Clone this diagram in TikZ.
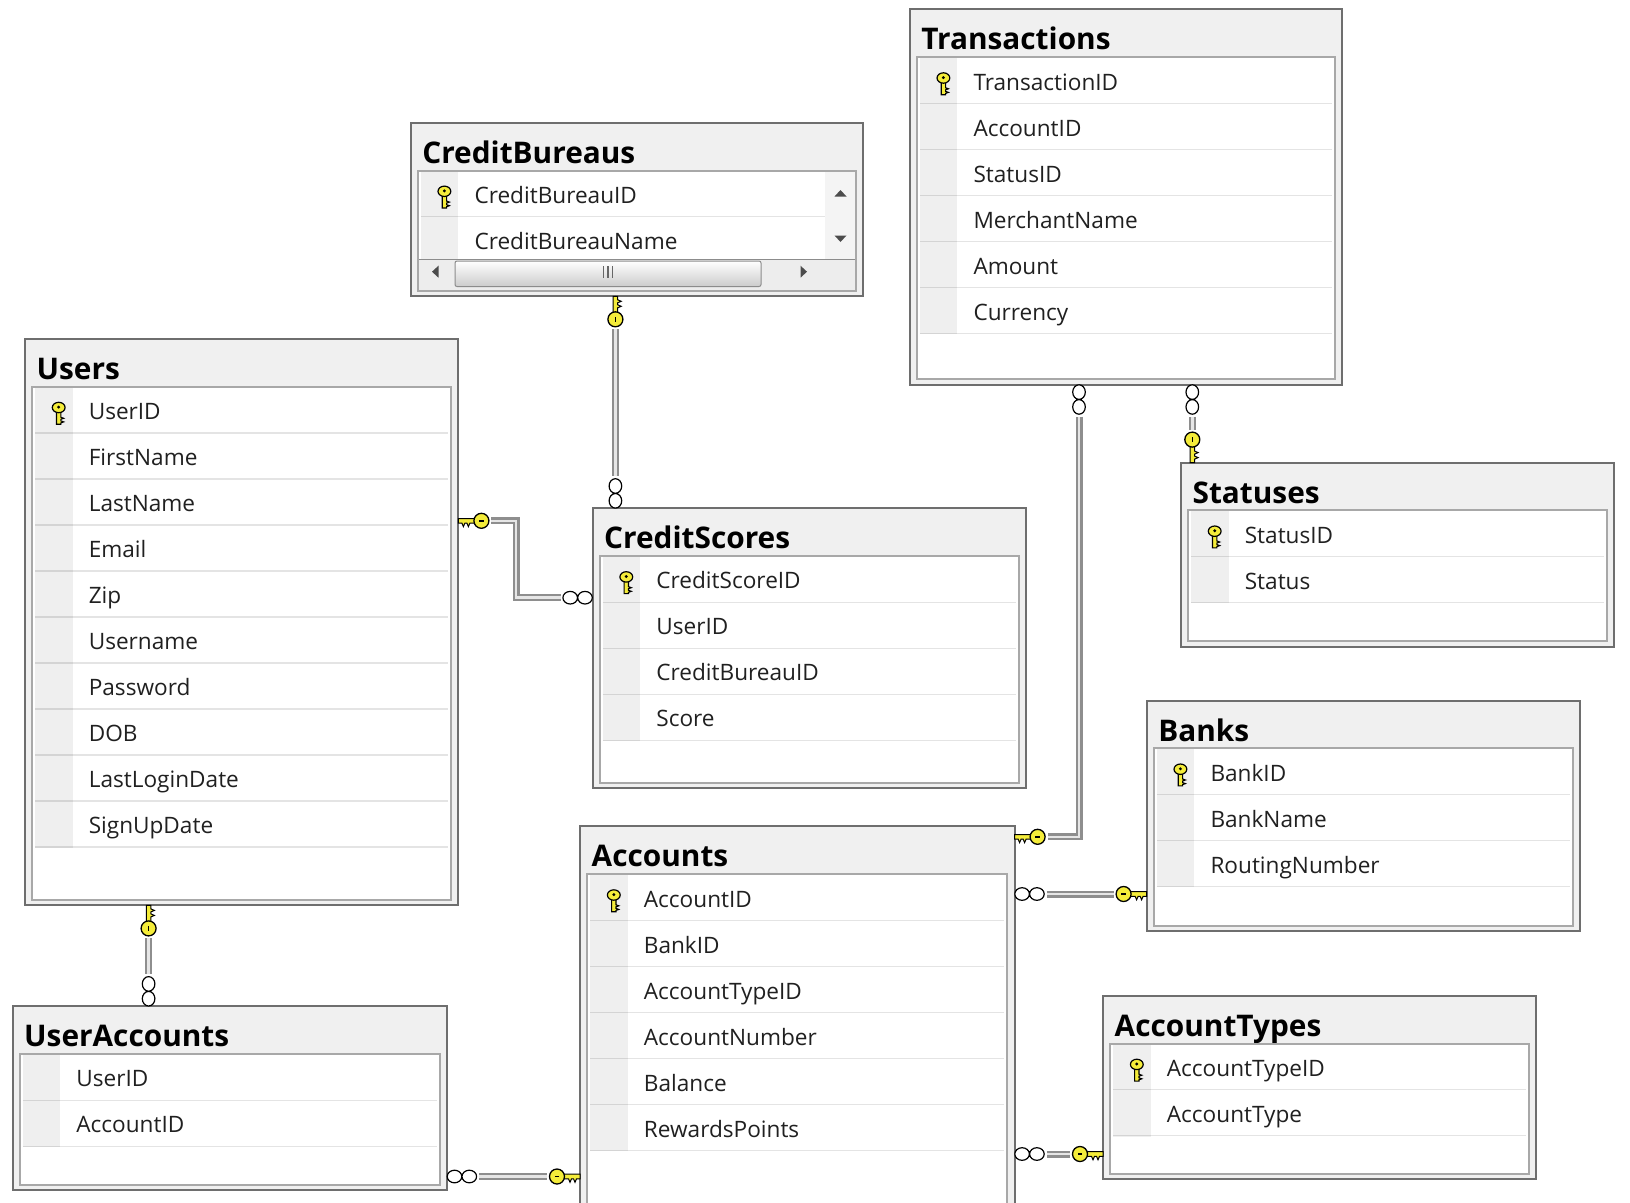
\documentclass[tikz,border=0pt]{standalone}
\usepackage{fontspec}
\setmainfont{Open Sans}
\usetikzlibrary{calc}

\definecolor{hdr}{HTML}{F0F0F0}
\definecolor{frameout}{HTML}{6E6E6E}
\definecolor{framein}{HTML}{A8A8A8}
\definecolor{rowline}{HTML}{E4E4E4}
\definecolor{keycell}{HTML}{EFEFEF}
\definecolor{keycellline}{HTML}{D4D4D4}
\definecolor{keyyellow}{HTML}{F4EC3A}
\definecolor{pipedark}{HTML}{8E8E8E}
\definecolor{pipelight}{HTML}{E6E6E6}
\definecolor{fieldink}{HTML}{202020}
\definecolor{scrolltrack}{HTML}{EDEDED}

\tikzset{
  tableframe/.style={draw=frameout, line width=2pt, fill=hdr, inner sep=0pt,
    outer sep=0pt, anchor=north west, rectangle},
  innerframe/.style={draw=framein, line width=2pt, fill=white},
  titletext/.style={anchor=base west, inner sep=0pt,
    font=\fontsize{29.8}{31}\selectfont\bfseries},
  fieldtext/.style={anchor=base west, inner sep=0pt, text=fieldink,
    font=\fontsize{22.6}{24}\selectfont},
  pipe/.style={draw=pipedark, line width=2.2pt, double=pipelight,
    double distance=2.6pt, line join=miter},
  % "one" end of a relationship: a key, teeth at the table, bow away from it
  keyend/.pic={
    \filldraw[fill=keyyellow, draw=black, line width=1pt]
      (0,-2.3) -- (17,-2.3) -- (17,2.3) -- (11.5,2.3) -- (10,5.8) -- (8.5,2.3)
      -- (6.5,2.3) -- (5,5.8) -- (3.5,2.3) -- (0,2.3) -- cycle;
    \filldraw[fill=keyyellow, draw=black, line width=1.3pt] (23,0) circle (7.5pt);
    \draw[line width=1.6pt] (20.8,0) -- (25.2,0);
  },
  % "many" end of a relationship: two small rings
  manyend/.pic={
    \filldraw[fill=white, draw=black, line width=1.2pt]
      (7.5,0) ellipse (7.3pt and 6.3pt) (22.3,0) ellipse (7.3pt and 6.3pt);
  },
  % primary key marker inside a row
  rowkey/.pic={
    \filldraw[fill=keyyellow, draw=black, line width=1.1pt]
      (-2.2,-1) -- (-2.2,11.5) -- (2.2,11.5) -- (2.2,10.2) -- (5,9.2) -- (2.2,8.2)
      -- (2.2,6.6) -- (5,5.6) -- (2.2,4.6) -- (2.2,-1) -- cycle;
    \filldraw[fill=keyyellow, draw=black, line width=1.2pt] (0,-5.2) ellipse (6.4pt and 5.2pt);
    \fill[black] (0,-5.6) circle (1.6pt);
  },
}

% one table: name, left, top, width, height, title, rows (1/label = key, 0/label = plain)
\newcommand\erdtable[7]{%
  \node[tableframe, minimum width=#4pt, minimum height=#5pt] (#1) at (#2,#3) {};
  \node[titletext] at ($(#1.north west)+(11.5,40.5)$) {#6};
  \draw[innerframe] ($(#1.north west)+(7.3,47.8)$) rectangle ($(#1.south east)+(-7.3,-5.2)$);
  \foreach \kind/\label [count=\i from 0] in {#7} {
    \fill[keycell] ($(#1.north west)+(10.3,{48.8+46*\i})$)
      rectangle ($(#1.north west)+(47.8,{48.8+46*(\i+1)})$);
    \draw[keycellline, line width=1.2pt] ($(#1.north west)+(10.3,{48.8+46*(\i+1)-0.8})$)
      -- ($(#1.north west)+(47.8,{48.8+46*(\i+1)-0.8})$);
    \draw[rowline, line width=1.2pt] ($(#1.north west)+(47.8,{48.8+46*(\i+1)-0.8})$)
      -- ($(#1.north east)+(-10.3,{48.8+46*(\i+1)-0.8})$);
    \node[fieldtext] at ($(#1.north west)+(63.7,{48.8+46*\i+23+8.8})$) {\label};
    \ifnum\kind=1
      \pic at ($(#1.north west)+(33.8,{48.8+46*\i+25})$) {rowkey};
    \fi
  }
}

\begin{document}
\begin{tikzpicture}[x=1pt, y=-1pt]
  \useasboundingbox (0,0) rectangle (1630,1202);
  \clip (0,0) rectangle (1630,1202);
  \fill[white] (0,0) rectangle (1630,1202);

  % ---- tables ----
  \erdtable{tr}{909.6}{9.4}{432.6}{375.2}{Transactions}
    {1/TransactionID, 0/AccountID, 0/StatusID, 0/MerchantName, 0/Amount, 0/Currency}
  \erdtable{cb}{410.6}{122.7}{452.2}{173.6}{CreditBureaus}
    {1/CreditBureauID, 0/CreditBureauName}
  \erdtable{users}{24.9}{338.9}{433.5}{566.5}{Users}
    {1/UserID, 0/FirstName, 0/LastName, 0/Email, 0/Zip, 0/Username, 0/Password,
     0/DOB, 0/LastLoginDate, 0/SignUpDate}
  \erdtable{cs}{592.5}{508.3}{433.5}{279.7}{CreditScores}
    {1/CreditScoreID, 0/UserID, 0/CreditBureauID, 0/Score}
  \erdtable{st}{1180.9}{462.6}{433.4}{184}{Statuses}
    {1/StatusID, 0/Status}
  \erdtable{banks}{1146.6}{700.6}{433.4}{230.8}{Banks}
    {1/BankID, 0/BankName, 0/RoutingNumber}
  \erdtable{acc}{580}{826.4}{434.6}{420}{Accounts}
    {1/AccountID, 0/BankID, 0/AccountTypeID, 0/AccountNumber, 0/Balance, 0/RewardsPoints}
  \erdtable{ua}{12.5}{1006.2}{434.5}{184}{UserAccounts}
    {0/UserID, 0/AccountID}
  \erdtable{at}{1103}{995.8}{433.4}{183}{AccountTypes}
    {1/AccountTypeID, 0/AccountType}

  % ---- scroll bars of CreditBureaus ----
  \fill[scrolltrack!60!white] (825.4,171.6) rectangle (855,259);
  \fill[black!70] (834.5,196.5) -- (846.5,196.5) -- (840.5,190) -- cycle;
  \fill[black!70] (834.5,235.5) -- (846.5,235.5) -- (840.5,242) -- cycle;
  \fill[scrolltrack] (419,259) rectangle (855,289.8);
  \draw[black!45, line width=1pt] (419,259) -- (855,259);
  \fill[black!70] (438.5,265.7) -- (438.5,277.7) -- (432,271.7) -- cycle;
  \fill[black!70] (800.5,265.7) -- (800.5,277.7) -- (807,271.7) -- cycle;
  \shade[top color=white, bottom color=black!20, draw=black!45, line width=1pt,
    rounded corners=2pt] (455,261) rectangle (761,286.5);
  \foreach \gx in {603.5,608,612.5}
    \draw[black!60, line width=1.5pt] (\gx,266) -- (\gx,277.5);

  % ---- anchors for the relationship lines ----
  \coordinate (colA) at (615.4,0);
  \coordinate (colB) at (516,0);
  \coordinate (colC) at (1079,0);
  \coordinate (colD) at (1192.3,0);
  \coordinate (colF) at (148.6,0);
  \coordinate (rowB) at (0,520.8);
  \coordinate (rowBb) at (0,597.7);
  \coordinate (rowC) at (0,836.8);
  \coordinate (rowE) at (0,894);
  \coordinate (rowG) at (0,1176.5);
  \coordinate (rowH) at (0,1154);

  \coordinate (a1) at (cb.south -| colA);
  \coordinate (a2) at (cs.north -| colA);
  \coordinate (b1) at (users.east |- rowB);
  \coordinate (b2) at (cs.west |- rowBb);
  \coordinate (c1) at (tr.south -| colC);
  \coordinate (c2) at (acc.east |- rowC);
  \coordinate (d1) at (tr.south -| colD);
  \coordinate (d2) at (st.north -| colD);
  \coordinate (e1) at (acc.east |- rowE);
  \coordinate (e2) at (banks.west |- rowE);
  \coordinate (f1) at (users.south -| colF);
  \coordinate (f2) at (ua.north -| colF);
  \coordinate (g1) at (ua.east |- rowG);
  \coordinate (g2) at (acc.west |- rowG);
  \coordinate (h1) at (acc.east |- rowH);
  \coordinate (h2) at (at.west |- rowH);

  % ---- relationship lines ----
  % CreditBureaus -> CreditScores
  \draw[pipe] ($(a1)+(0,33)$) -- ($(a2)+(0,-32)$);
  \pic[rotate=-90, yscale=-1] at (a1) {keyend};
  \pic[rotate=90] at (a2) {manyend};
  % Users -> CreditScores
  \draw[pipe] ($(b1)+(33,0)$) -| (colB |- b2) -- ($(b2)+(-32,0)$);
  \pic at (b1) {keyend};
  \pic[rotate=180] at (b2) {manyend};
  % Accounts -> Transactions
  \draw[pipe] ($(c1)+(0,32)$) |- ($(c2)+(33,0)$);
  \pic[rotate=-90] at (c1) {manyend};
  \pic at (c2) {keyend};
  % Statuses -> Transactions
  \draw[pipe] ($(d1)+(0,32)$) -- ($(d2)+(0,-33)$);
  \pic[rotate=-90] at (d1) {manyend};
  \pic[rotate=90] at (d2) {keyend};
  % Banks -> Accounts
  \draw[pipe] ($(e1)+(32,0)$) -- ($(e2)+(-33,0)$);
  \pic at (e1) {manyend};
  \pic[xscale=-1] at (e2) {keyend};
  % Users -> UserAccounts
  \draw[pipe] ($(f1)+(0,33)$) -- ($(f2)+(0,-32)$);
  \pic[rotate=-90, yscale=-1] at (f1) {keyend};
  \pic[rotate=90] at (f2) {manyend};
  % Accounts -> UserAccounts
  \draw[pipe] ($(g1)+(32,0)$) -- ($(g2)+(-33,0)$);
  \pic at (g1) {manyend};
  \pic[xscale=-1] at (g2) {keyend};
  % AccountTypes -> Accounts
  \draw[pipe] ($(h1)+(32,0)$) -- ($(h2)+(-33,0)$);
  \pic at (h1) {manyend};
  \pic[xscale=-1] at (h2) {keyend};
\end{tikzpicture}
\end{document}
